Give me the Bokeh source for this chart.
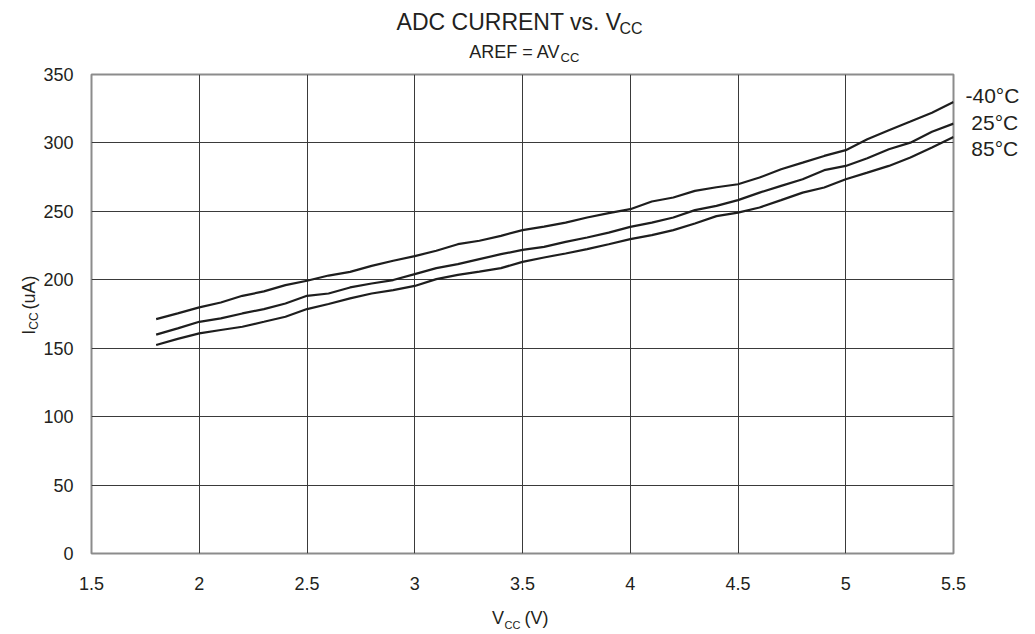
import math
from bokeh.plotting import figure
from bokeh.layouts import column, row
from bokeh.models import Label, FixedTicker, Range1d, CustomJSTickFormatter, LinearAxis
from bokeh.embed import file_html
from bokeh.resources import INLINE

# ---------------- data ----------------
vcc = [1.8, 1.9, 2.0, 2.1, 2.2, 2.3, 2.4, 2.5, 2.6, 2.7, 2.8, 2.9,
       3.0, 3.1, 3.2, 3.3, 3.4, 3.5, 3.6, 3.7, 3.8, 3.9, 4.0, 4.1,
       4.2, 4.3, 4.4, 4.5, 4.6, 4.7, 4.8, 4.9, 5.0, 5.1, 5.2, 5.3,
       5.4, 5.5]
icc_m40 = [171.3, 175.5, 179.8, 183.4, 188.3, 191.5, 196.1, 199.3, 203.1, 205.8,
           210.2, 213.9, 217.3, 221.2, 226.0, 228.5, 232.1, 236.3, 238.9, 241.8,
           245.5, 248.7, 251.6, 257.2, 260.1, 265.0, 267.6, 269.8, 274.7, 280.8,
           285.6, 290.5, 294.7, 302.7, 309.3, 315.6, 322.1, 329.9]
icc_25 = [159.9, 164.5, 169.3, 171.8, 175.4, 178.6, 182.7, 188.3, 190.0, 194.4,
          197.3, 199.8, 204.1, 208.5, 211.4, 215.1, 218.7, 221.9, 224.1, 227.7,
          230.9, 234.5, 238.7, 241.8, 245.5, 250.9, 254.0, 258.2, 263.7, 268.6,
          273.5, 280.1, 283.2, 288.8, 295.4, 300.2, 308.2, 314.1]
icc_85 = [152.3, 156.8, 160.8, 163.3, 165.7, 169.3, 173.0, 178.6, 182.3, 186.4,
          190.0, 192.5, 195.5, 200.5, 203.6, 206.0, 208.5, 213.1, 216.3, 219.2,
          222.4, 226.0, 229.7, 232.6, 236.3, 241.1, 246.5, 249.1, 252.8, 258.2,
          263.7, 267.4, 273.5, 278.3, 283.2, 289.3, 296.6, 304.4]
temp_labels = ["-40°C", "25°C", "85°C"]
x_ticks = [1.5, 2, 2.5, 3, 3.5, 4, 4.5, 5, 5.5]
y_ticks = [0, 50, 100, 150, 200, 250, 300, 350]

# ---------------- layout (page pixels) ----------------
PAGE_W, PAGE_H = 1035, 634
TOP_H = 64            # title strip
LEFT_W = 40           # y-label strip
BOT_H = 36            # x-label strip
MAIN_W = PAGE_W - LEFT_W
MAIN_H = PAGE_H - TOP_H - BOT_H
ML, MT, MB = 48, 10, 45
FRAME_W = 865
MR = MAIN_W - ML - FRAME_W
FRAME_H = MAIN_H - MT - MB
X0, X1, Y0, Y1 = 1.5, 5.5, 0, 350
FONT = "Liberation Sans"
INK = "#231f20"
BASE_SHIFT = 0.4      # em; anchor correction so py is the visual baseline

# page y of the three temperature labels at the right
temp_label_py = [95, 122, 148]
frame_top_py = TOP_H + MT


def strip(w, h):
    f = figure(width=w, height=h, output_backend="svg", toolbar_location=None,
               x_range=Range1d(0, w), y_range=Range1d(0, h),
               x_axis_type=None, y_axis_type=None, min_border=0)
    f.grid.visible = False
    f.outline_line_color = None
    f.background_fill_color = "white"
    f.border_fill_color = "white"
    return f


def put(fig, ox, oy, h, text, px, py, size, align="left", rotated=False):
    if rotated:
        px = px - BASE_SHIFT * size
    else:
        py = py - BASE_SHIFT * size
    fig.add_layout(Label(x=px - ox, y=(oy + h) - py, text=text, text_font=FONT,
                         text_font_size=f"{size}px", text_color=INK,
                         text_align=align, text_baseline="alphabetic",
                         angle=(math.pi / 2 if rotated else 0.0)))


# ---- main plot ----
p = figure(width=MAIN_W, height=MAIN_H, output_backend="svg", toolbar_location=None,
           x_range=Range1d(X0, X1), y_range=Range1d(Y0, Y1),
           min_border_left=ML, min_border_right=MR,
           min_border_top=MT, min_border_bottom=MB)
p.background_fill_color = "white"
p.border_fill_color = "white"
p.outline_line_color = "#8c8c8c"
p.outline_line_width = 2

fmt = CustomJSTickFormatter(code="return tick.toString();")
for ax, ticks in ((p.xaxis, x_ticks), (p.yaxis, y_ticks)):
    ax.ticker = FixedTicker(ticks=ticks)
    ax.formatter = fmt
    ax.axis_line_color = None
    ax.major_tick_line_color = None
    ax.minor_tick_line_color = None
    ax.major_tick_out = 0
    ax.major_tick_in = 0
    ax.minor_tick_out = 0
    ax.major_label_text_font = FONT
    ax.major_label_text_font_size = "18px"
    ax.major_label_text_color = INK
p.xaxis.major_label_standoff = 23
p.yaxis.major_label_standoff = 18

for g in (p.xgrid, p.ygrid):
    g.grid_line_color = "#3a3a3a"
    g.grid_line_width = 1

for ys in (icc_m40, icc_25, icc_85):
    p.line(vcc, ys, line_color="#1e1e1e", line_width=2.2)

# temperature labels as a right-hand axis
label_pos = [Y1 - (py - frame_top_py) / FRAME_H * (Y1 - Y0) for py in temp_label_py]
shown = [t if t.startswith("-") else "\u00a0" + t for t in temp_labels]
rax = LinearAxis(
    ticker=FixedTicker(ticks=label_pos),
    formatter=CustomJSTickFormatter(
        args=dict(pos=label_pos, txt=shown),
        code="""
        let best = 0;
        for (let i = 1; i < pos.length; i++) {
          if (Math.abs(pos[i] - tick) < Math.abs(pos[best] - tick)) best = i;
        }
        return txt[best];
        """),
    axis_line_color=None, major_tick_line_color=None, minor_tick_line_color=None,
    major_tick_out=0, major_tick_in=0, minor_tick_out=0,
    major_label_standoff=12, major_label_text_font=FONT,
    major_label_text_font_size="21px", major_label_text_color=INK)
p.add_layout(rax, "right")

# ---- title strip ----
t = strip(PAGE_W, TOP_H)
put(t, 0, 0, TOP_H, "ADC CURRENT vs. V", 621, 30.5, 23, align="right")
put(t, 0, 0, TOP_H, "CC", 619, 34.5, 16)
put(t, 0, 0, TOP_H, "AREF = AV", 560, 59, 18, align="right")
put(t, 0, 0, TOP_H, "CC", 560, 62.5, 13)

# ---- y label strip ----
l = strip(LEFT_W, MAIN_H)
put(l, 0, TOP_H, MAIN_H, "I", 35.5, 354, 18, rotated=True)
put(l, 0, TOP_H, MAIN_H, "CC", 38.5, 348.5, 12, rotated=True)
put(l, 0, TOP_H, MAIN_H, "(uA)", 35.5, 326, 18, rotated=True)

# ---- x label strip ----
b = strip(PAGE_W, BOT_H)
oy = TOP_H + MAIN_H
put(b, 0, oy, BOT_H, "V", 491.5, 625, 18)
put(b, 0, oy, BOT_H, "CC", 504, 628.5, 11)
put(b, 0, oy, BOT_H, "(V)", 524, 625, 18)

layout = column(t, row(l, p, spacing=0), b, spacing=0)
open("out.html", "w").write(file_html(layout, INLINE))
